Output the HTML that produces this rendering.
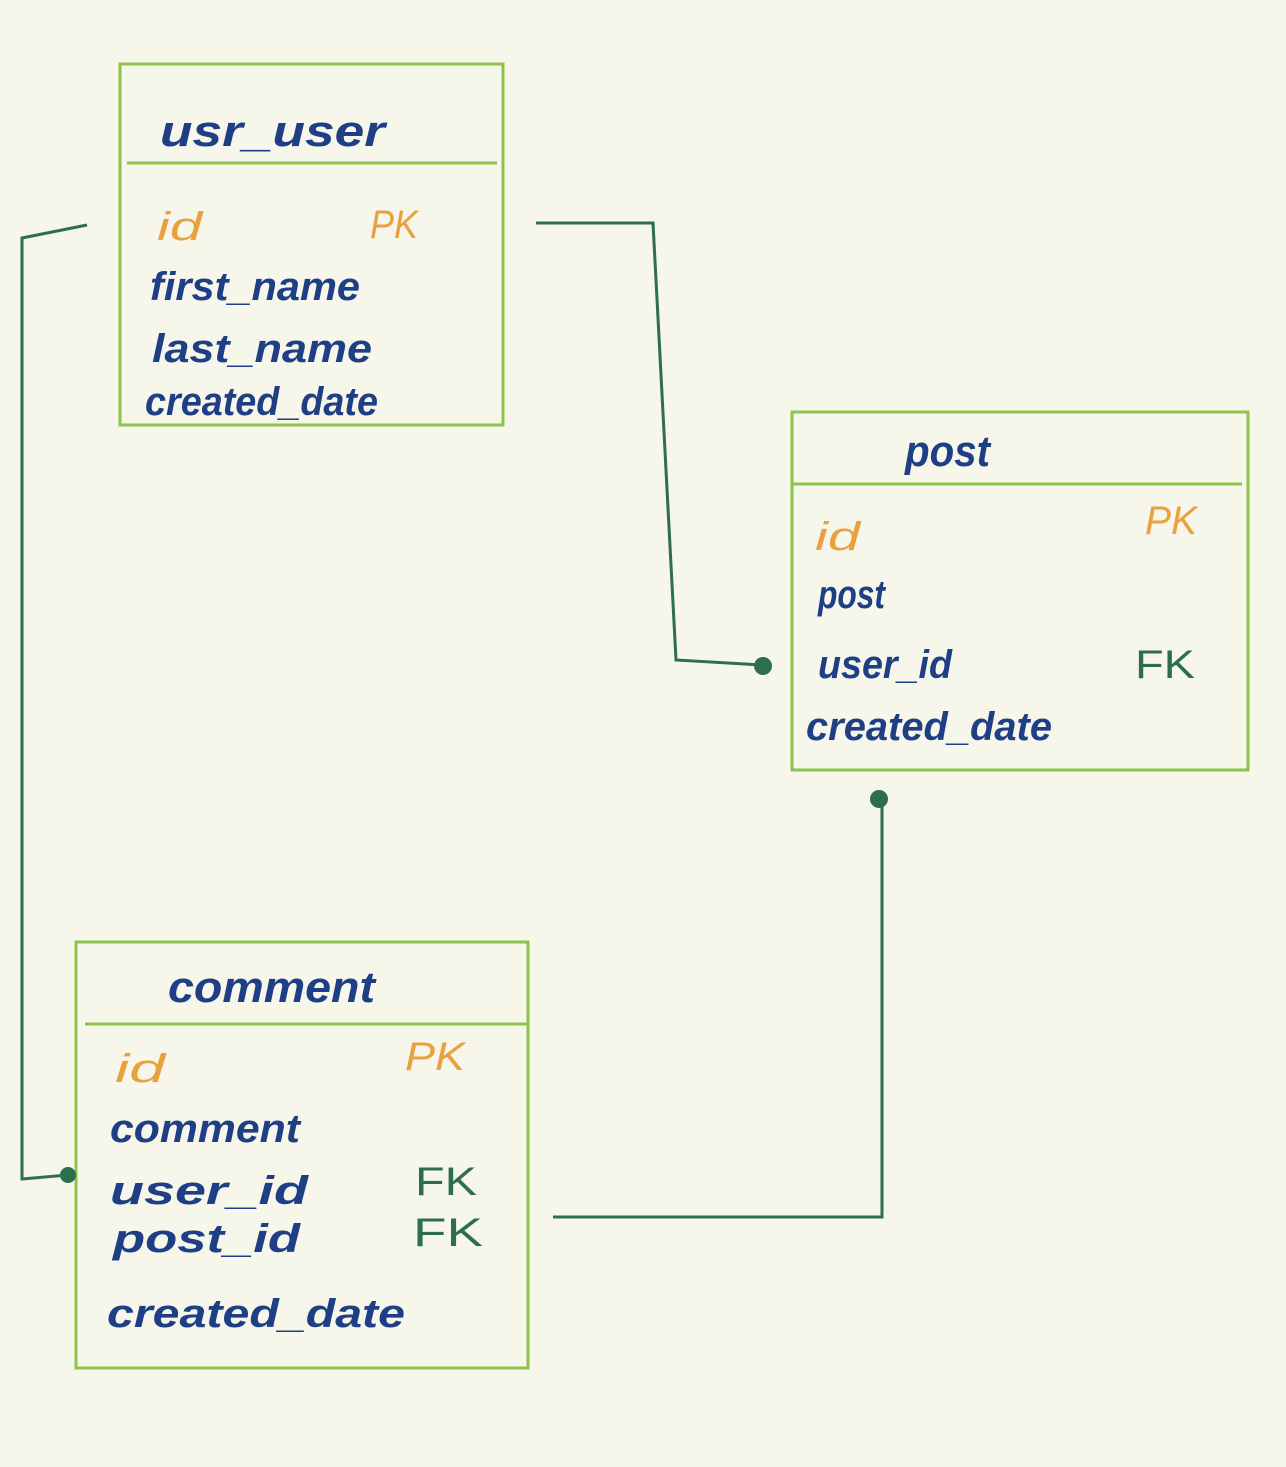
<!DOCTYPE html>
<html><head><meta charset="utf-8"><style>
html,body{margin:0;padding:0;background:#f7f6ea;}
svg{display:block}
text{font-family:"Liberation Sans",sans-serif;font-style:italic;}
.n{fill:#1e3f86;font-size:40px;font-weight:600}
.o{fill:#e9a03f;font-size:40px;}
.g{fill:#2e6e4e;font-size:40px;font-style:normal}
</style></head><body>
<svg width="1286" height="1467" viewBox="0 0 1286 1467">
<rect width="1286" height="1467" fill="#f7f6ea"/>
<g fill="none" stroke="#8cc34d" stroke-width="3">
<rect x="120" y="64" width="383" height="361"/>
<line x1="127" y1="163" x2="497" y2="163"/>
<rect x="792" y="412" width="456" height="358"/>
<line x1="792" y1="484" x2="1242" y2="484"/>
<rect x="76" y="942" width="452" height="426"/>
<line x1="85" y1="1024" x2="527" y2="1024"/>
</g>
<g fill="none" stroke="#2e6e4e" stroke-width="3">
<polyline points="87,225 22,238 22,1179 68,1175"/>
<polyline points="536,223 653,223 676,660 762,665"/>
<polyline points="553,1217 882,1217 882,800"/>
</g>
<g fill="#2e6e4e">
<circle cx="68" cy="1175" r="8"/>
<circle cx="763" cy="666" r="9"/>
<circle cx="879" cy="799" r="9"/>
</g>
<text class="n" x="160" y="146" style="font-size:44px" textLength="225" lengthAdjust="spacingAndGlyphs">usr_user</text>
<text class="o" x="157" y="240" textLength="45" lengthAdjust="spacingAndGlyphs">id</text>
<text class="o" x="370" y="238" textLength="48" lengthAdjust="spacingAndGlyphs">PK</text>
<text class="n" x="150" y="300" textLength="210" lengthAdjust="spacingAndGlyphs">first_name</text>
<text class="n" x="152" y="362" textLength="220" lengthAdjust="spacingAndGlyphs">last_name</text>
<text class="n" x="145" y="415" textLength="233" lengthAdjust="spacingAndGlyphs">created_date</text>

<text class="n" x="905" y="466" style="font-size:44px" textLength="85" lengthAdjust="spacingAndGlyphs">post</text>
<text class="o" x="815" y="550" textLength="45" lengthAdjust="spacingAndGlyphs">id</text>
<text class="o" x="1145" y="534" textLength="52" lengthAdjust="spacingAndGlyphs">PK</text>
<text class="n" x="818" y="608" textLength="67" lengthAdjust="spacingAndGlyphs">post</text>
<text class="n" x="818" y="678" textLength="134" lengthAdjust="spacingAndGlyphs">user_id</text>
<text class="g" x="1135" y="678" textLength="60" lengthAdjust="spacingAndGlyphs">FK</text>
<text class="n" x="806" y="740" textLength="246" lengthAdjust="spacingAndGlyphs">created_date</text>

<text class="n" x="168" y="1002" style="font-size:44px" textLength="207" lengthAdjust="spacingAndGlyphs">comment</text>
<text class="o" x="115" y="1082" textLength="50" lengthAdjust="spacingAndGlyphs">id</text>
<text class="o" x="405" y="1070" textLength="60" lengthAdjust="spacingAndGlyphs">PK</text>
<text class="n" x="110" y="1142" textLength="190" lengthAdjust="spacingAndGlyphs">comment</text>
<text class="n" x="110" y="1204" textLength="198" lengthAdjust="spacingAndGlyphs">user_id</text>
<text class="g" x="415" y="1195" textLength="62" lengthAdjust="spacingAndGlyphs">FK</text>
<text class="n" x="113" y="1252" textLength="187" lengthAdjust="spacingAndGlyphs">post_id</text>
<text class="g" x="413" y="1246" textLength="70" lengthAdjust="spacingAndGlyphs">FK</text>
<text class="n" x="107" y="1327" textLength="298" lengthAdjust="spacingAndGlyphs">created_date</text>
</svg>
</body></html>
